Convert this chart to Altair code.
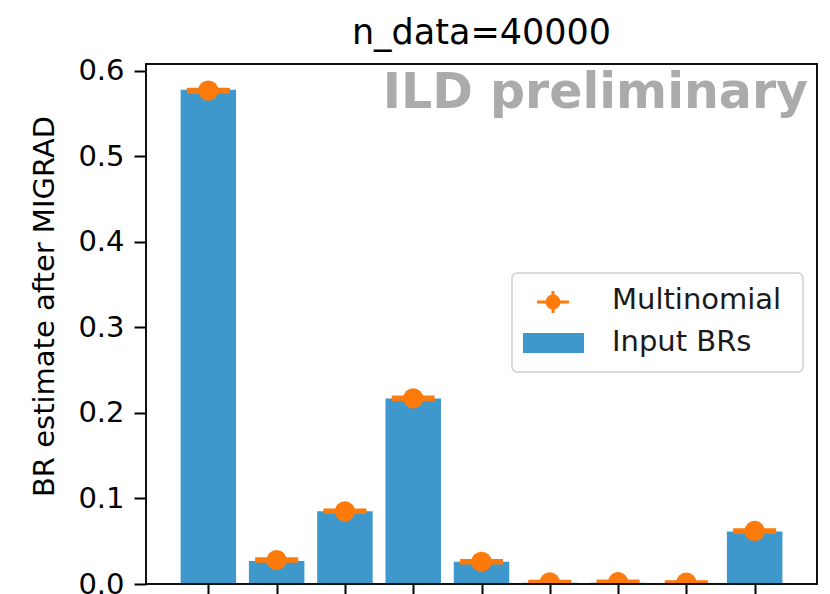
import altair as alt
import pandas as pd

# ---- data ----
mode_index = [0, 1, 2, 3, 4, 5, 6, 7, 8]
input_br = [0.578, 0.027, 0.085, 0.217, 0.026, 0.0015, 0.0015, 0.001, 0.0615]
fit_br = [0.577, 0.028, 0.085, 0.217, 0.026, 0.002, 0.0022, 0.0015, 0.062]
fit_err = [0.0016, 0.0014, 0.0015, 0.0016, 0.0014, 0.0012, 0.0012, 0.0012, 0.0014]
y_ticks = [0.0, 0.1, 0.2, 0.3, 0.4, 0.5, 0.6]
legend_labels = ["Multinomial", "Input BRs"]
title_text = "n_data=40000"
watermark_text = "ILD preliminary"

BLUE = "#3e98cb"
ORANGE = "#fe7a0a"
FONT = "DejaVu Sans"

df = pd.DataFrame({"idx": mode_index, "input": input_br, "fit": fit_br, "err": fit_err})
df["lo"] = df["fit"] - df["err"]
df["hi"] = df["fit"] + df["err"]

W, H = 671, 520

xs = alt.Scale(domain=[-0.84, 8.84], nice=False, zero=False)
ys = alt.Scale(domain=[0, 0.608], nice=False, zero=False)

x_axis = alt.Axis(values=mode_index, labels=False, title=None, grid=False, domain=False,
                  ticks=True, tickSize=11, tickWidth=2, tickColor="black")
y_axis = alt.Axis(values=y_ticks, format=".1f", title="BR estimate after MIGRAD", grid=False,
                  domain=False, tickSize=12, tickWidth=2, tickColor="black",
                  labelFontSize=29, labelFont=FONT, labelColor="black", labelPadding=10,
                  titleFontSize=29, titleFont=FONT, titleFontWeight="normal",
                  titleColor="black", titlePadding=18, titleY=242)

base = alt.Chart(df)

bars = base.mark_bar(size=55.5, color=BLUE).encode(
    x=alt.X("idx:Q", scale=xs, axis=x_axis),
    y=alt.Y("input:Q", scale=ys, axis=y_axis),
)

vbars = base.mark_rule(color=ORANGE, strokeWidth=2.5, clip=True).encode(
    x=alt.X("idx:Q", scale=xs), y=alt.Y("lo:Q", scale=ys), y2="hi:Q"
)
cap_lo = base.mark_tick(color=ORANGE, orient="horizontal", size=43, thickness=3, opacity=1,
                        clip=True).encode(
    x=alt.X("idx:Q", scale=xs), y=alt.Y("lo:Q", scale=ys)
)
cap_hi = base.mark_tick(color=ORANGE, orient="horizontal", size=43, thickness=3, opacity=1,
                        clip=True).encode(
    x=alt.X("idx:Q", scale=xs), y=alt.Y("hi:Q", scale=ys)
)
points = base.mark_circle(color=ORANGE, size=410, opacity=1, clip=True).encode(
    x=alt.X("idx:Q", scale=xs), y=alt.Y("fit:Q", scale=ys)
)

# watermark
one = pd.DataFrame({"t": [watermark_text]})
watermark = alt.Chart(one).mark_text(
    font=FONT, fontSize=49, fontWeight="bold", color="#ababab",
    align="right", baseline="alphabetic"
).encode(x=alt.value(662), y=alt.value(44), text="t:N")

# frame around the plot area
frame = alt.Chart(pd.DataFrame({"a": [0]})).mark_rect(
    fill=None, stroke="#111111", strokeWidth=2
).encode(x=alt.value(0), x2=alt.value(W), y=alt.value(0), y2=alt.value(H))

# legend
leg_df = pd.DataFrame({"label": legend_labels, "ty": [236, 278]})
leg_box = alt.Chart(pd.DataFrame({"a": [0]})).mark_rect(
    fill="white", fillOpacity=0.85, stroke="#cfcfcf", strokeWidth=1.5, cornerRadius=5
).encode(x=alt.value(366), x2=alt.value(657), y=alt.value(209), y2=alt.value(308))
leg_text = alt.Chart(leg_df).mark_text(
    font=FONT, fontSize=29, color="#1a1a1a", align="left", baseline="middle"
).encode(x=alt.value(466), y=alt.Y("ty:Q", scale=None), text="label:N")
leg_m = alt.Chart(leg_df.iloc[[0]]).mark_circle(color=ORANGE, size=220, opacity=1).encode(
    x=alt.value(407), y=alt.value(238))
leg_v = alt.Chart(leg_df.iloc[[0]]).mark_rule(color=ORANGE, strokeWidth=3).encode(
    x=alt.value(407), y=alt.value(227), y2=alt.value(249))
leg_h = alt.Chart(leg_df.iloc[[0]]).mark_rule(color=ORANGE, strokeWidth=3).encode(
    x=alt.value(391), x2=alt.value(423), y=alt.value(238))
leg_sw = alt.Chart(leg_df.iloc[[1]]).mark_rect(color=BLUE).encode(
    x=alt.value(377), x2=alt.value(438), y=alt.value(269), y2=alt.value(289))

chart = alt.layer(
    bars, vbars, cap_lo, cap_hi, points, watermark, frame,
    leg_box, leg_v, leg_h, leg_m, leg_sw, leg_text
).properties(
    width=W, height=H,
    title=alt.Title(title_text, font=FONT, fontSize=35, fontWeight="normal", color="black",
                    anchor="middle", baseline="alphabetic", offset=-22),
    padding={"left": 146, "top": 64, "right": 13, "bottom": 10},
    autosize=alt.AutoSizeParams(type="none"),
).configure_view(
    stroke=None
).configure(background="white")

chart.save("out.html", embed_options={"renderer": "svg", "actions": False})
